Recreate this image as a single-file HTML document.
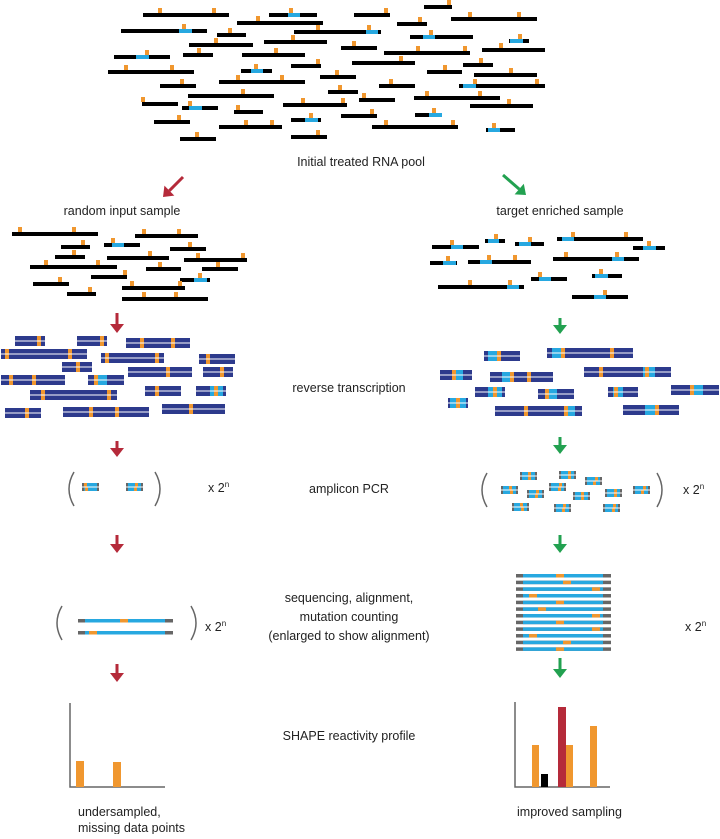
<!DOCTYPE html>
<html><head><meta charset="utf-8"><style>
html,body{margin:0;padding:0;background:#fff}
svg text{font-family:"Liberation Sans",sans-serif;font-size:12.5px;fill:#222}
</style></head><body>
<svg id="s" width="720" height="834" viewBox="0 0 720 834" xmlns="http://www.w3.org/2000/svg">
<g id="gg"></g>
<text x="361" y="166" text-anchor="middle">Initial treated RNA pool</text>
<text x="122" y="215" text-anchor="middle">random input sample</text>
<text x="560" y="215" text-anchor="middle">target enriched sample</text>
<text x="349" y="392" text-anchor="middle">reverse transcription</text>
<text x="349" y="493" text-anchor="middle">amplicon PCR</text>
<text x="349" y="602" text-anchor="middle">sequencing, alignment,</text>
<text x="349" y="621" text-anchor="middle">mutation counting</text>
<text x="349" y="640" text-anchor="middle">(enlarged to show alignment)</text>
<text x="349" y="740" text-anchor="middle">SHAPE reactivity profile</text>
<text x="78" y="816">undersampled,</text>
<text x="78" y="832">missing data points</text>
<text x="517" y="816">improved sampling</text>
<text x="208" y="492">x 2<tspan font-size="8" dy="-5">n</tspan></text>
<text x="205" y="631">x 2<tspan font-size="8" dy="-5">n</tspan></text>
<text x="683" y="494">x 2<tspan font-size="8" dy="-5">n</tspan></text>
<text x="685" y="631">x 2<tspan font-size="8" dy="-5">n</tspan></text>
<g fill="none" stroke="#666" stroke-width="1.5">
<path d="M74 472 Q64 489 74 506"/><path d="M155 472 Q165 489 155 506"/>
<path d="M62 606 Q52 623 62 640"/><path d="M191 606 Q201 623 191 640"/>
<path d="M487 473 Q477 490 487 507"/><path d="M657 473 Q667 490 657 507"/>
<path d="M70 703 V787 H165"/><path d="M515 702 V787 H610"/>
</g>
<rect x="76" y="761" width="8" height="26" fill="#f0972f"/>
<rect x="113" y="762" width="8" height="25" fill="#f0972f"/>
<rect x="532" y="745" width="7" height="42" fill="#f0972f"/>
<rect x="541" y="774" width="7" height="13" fill="#000"/>
<rect x="558" y="707" width="8" height="80" fill="#b52a3a"/>
<rect x="566" y="745" width="7" height="42" fill="#f0972f"/>
<rect x="590" y="726" width="7" height="61" fill="#f0972f"/>
</svg>
<script>
(function(){
var G=document.getElementById('gg'),NS='http://www.w3.org/2000/svg';
function R(x,y,w,h,c){var r=document.createElementNS(NS,'rect');r.setAttribute('x',x);r.setAttribute('y',y);r.setAttribute('width',w);r.setAttribute('height',h);r.setAttribute('fill',c);G.appendChild(r);}
var OR='#f0972f',BL='#27a8e0',NV='#2d3a8c',GR='#666';
function rna(a,b,y,m,bl){R(a,y-2,b-a,4,'#000');if(bl)R(bl[0],y-2,bl[1]-bl[0],4,BL);(m||[]).forEach(function(k){R(k-2,y-7,4,5,OR);});}
var TP=[[143,229,15,[160,214]],[269,317,15,[291],[288,300]],[354,390,15,[386]],[424,452,7,[449]],[451,537,19,[470,519]],[237,323,23,[258]],[121,207,31,[184],[179,192]],[217,246,35,[230]],[294,381,32,[318,369],[366,378]],[397,427,24,[420]],[410,473,37,[431],[423,435]],[509,529,41,[520],[510,523]],[189,253,45,[216]],[264,327,42,[293]],[341,377,48,[354]],[384,470,53,[418,465]],[482,545,50,[501]],[114,170,57,[147],[136,149]],[183,213,55,[199]],[242,305,55,[276]],[291,321,66,[318]],[352,415,63,[401]],[463,493,65,[481]],[108,194,72,[126,172]],[241,272,71,[256],[251,263]],[427,462,72,[445]],[474,537,75,[511]],[320,356,77,[337]],[160,196,86,[182]],[219,305,82,[238,282]],[379,415,86,[391]],[459,545,86,[475,537],[463,476]],[328,358,92,[340]],[188,274,96,[243]],[359,395,100,[364]],[414,500,98,[427,480]],[142,178,104,[143]],[182,218,108,[190],[189,202]],[283,347,105,[303,343]],[234,263,112,[238]],[470,533,106,[509]],[154,190,122,[179]],[219,282,127,[246,272]],[291,321,120,[311],[305,318]],[341,377,116,[372]],[415,442,115,[434],[429,442]],[372,458,127,[386,453]],[486,515,130,[494],[488,500]],[180,216,139,[197]],[291,327,137,[318]],
[12,98,234,[20,74]],[61,90,247,[83]],[104,140,245,[113],[112,124]],[135,198,236,[144,179]],[170,206,249,[190]],[55,85,257,[74]],[107,169,258,[150]],[184,247,260,[198,243]],[30,117,267,[46,98]],[146,181,269,[160]],[202,238,269,[218]],[91,127,277,[125]],[33,69,284,[60]],[180,210,280,[200],[194,207]],[122,185,288,[132,180]],[67,96,294,[90]],[122,208,299,[144,176]],
[432,479,247,[452],[451,463]],[485,505,241,[496],[488,499]],[515,544,244,[530],[519,531]],[557,643,239,[573,626],[562,574]],[633,665,248,[649],[643,656]],[430,457,263,[448],[443,456]],[468,531,262,[489,515],[480,492]],[553,639,259,[566,617],[612,624]],[531,567,279,[540],[539,551]],[592,622,276,[601],[595,608]],[438,524,287,[470,510],[507,519]],[572,628,297,[605],[594,606]]];
TP.forEach(function(t){rna(t[0],t[1],t[2],t[3],t[4]);});
function ds(a,b,y,o,bl){for(var i=0;i<2;i++){var yy=y+i*5.5;R(a,yy,b-a,4.5,NV);if(bl)R(bl[0],yy,bl[1]-bl[0],4.5,BL);(o||[]).forEach(function(k){R(k-2,yy,4,4.5,OR);});}}
var D=[[15,45,336,[39]],[77,107,336,[102]],[126,190,338,[142,173]],[1,87,349,[7,70]],[101,164,353,[107,157]],[199,235,354,[208]],[62,92,362,[78]],[128,192,367,[168]],[203,233,367,[222]],[1,65,375,[11,34]],[88,124,375,[96],[98,107]],[30,117,390,[43,109]],[145,181,386,[157]],[196,226,386,[216],[210,223]],[5,41,408,[27]],[63,149,407,[91,117]],[162,225,404,[191]],
[484,520,351,[499],[488,497]],[547,633,348,[563,612],[552,562]],[440,472,370,[454],[452,463]],[490,553,372,[512,529],[502,510]],[584,671,367,[601,647],[643,655]],[475,505,387,[495],[488,502]],[538,574,389,[547],[548,557]],[608,638,387,[616],[613,623]],[671,719,385,[692],[693,703]],[448,468,398,[458],[450,466]],[495,582,406,[526,566],[568,575]],[623,679,405,[657],[645,656]]];
D.forEach(function(t){ds(t[0],t[1],t[2],t[3],t[4]);});
function amp(x,y,o1,o2){[[y,o1],[y+4.5,o2]].forEach(function(p){R(x,p[0],17,3.5,GR);R(x+2,p[0],13,3.5,BL);R(x+p[1],p[0],3,3.5,OR);});}
amp(82,483,2,3);amp(126,483,9,8);
[[520,472],[559,471],[585,477],[501,486],[527,490],[549,483],[573,492],[605,489],[633,486],[512,503],[554,504],[603,504]].forEach(function(p,i){amp(p[0],p[1],8+(i%3),8+(i%2));});
function rd(a,b,y,o){R(a,y,b-a,3.5,GR);R(a+7,y,b-a-15,3.5,BL);R(o,y,8,3.5,OR);}
rd(78,173,619,120);rd(78,173,631,89);
[556,563,592,529,556,538,592,556,592,529,563,556].forEach(function(o,i){rd(516,611,574+i*6.67,o);});
function arr(x1,y1,x2,y2,c){var dx=x2-x1,dy=y2-y1,L=Math.hypot(dx,dy),ux=dx/L,uy=dy/L,px=-uy,py=ux,h=9,w=7;
var l=document.createElementNS(NS,'line');l.setAttribute('x1',x1);l.setAttribute('y1',y1);l.setAttribute('x2',x2-ux*h);l.setAttribute('y2',y2-uy*h);l.setAttribute('stroke',c);l.setAttribute('stroke-width',3);G.appendChild(l);
var p=document.createElementNS(NS,'polygon');var bx=x2-ux*h,by=y2-uy*h;p.setAttribute('points',x2+','+y2+' '+(bx+px*w)+','+(by+py*w)+' '+(bx-px*w)+','+(by-py*w));p.setAttribute('fill',c);G.appendChild(p);}
var RD='#b52a3a',GN='#22a150';
arr(183,177,163,197,RD);arr(503,175,526,195,GN);
[[313,333],[441,457],[535,553],[664,682]].forEach(function(v){arr(117,v[0],117,v[1],RD);});
[[318,334],[437,454],[535,553],[658,678]].forEach(function(v){arr(560,v[0],560,v[1],GN);});
})();
</script>
</body></html>
